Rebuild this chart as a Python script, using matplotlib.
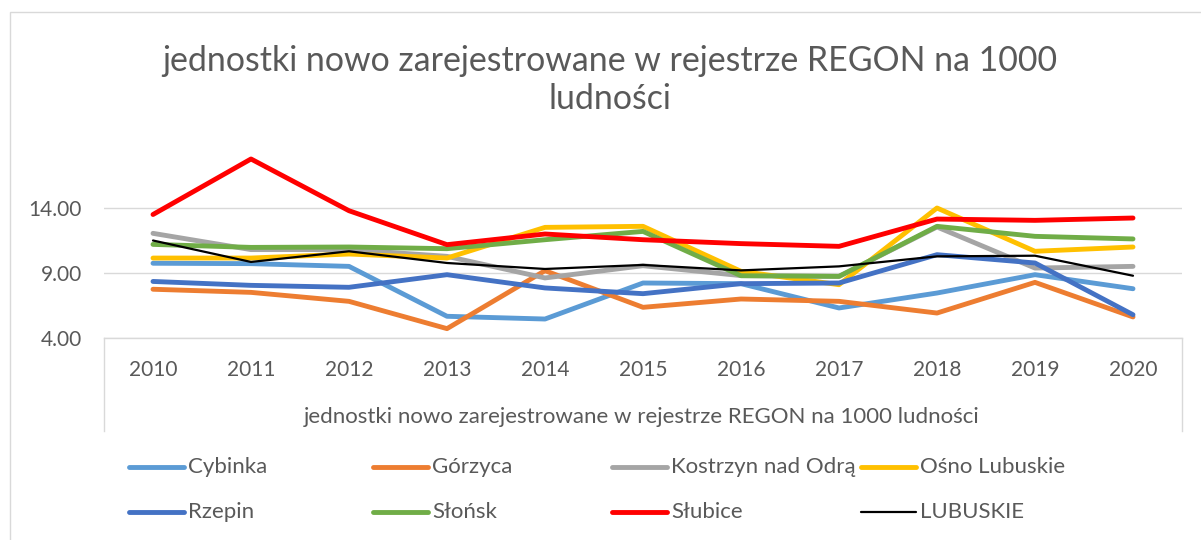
import matplotlib.pyplot as plt
import matplotlib.transforms as mtransforms
from matplotlib.lines import Line2D
from matplotlib.patches import Rectangle

plt.rcParams['font.family'] = ['Lato', 'DejaVu Sans']

years = ['2010', '2011', '2012', '2013', '2014', '2015', '2016', '2017', '2018', '2019', '2020']

cybinka = [9.75, 9.72, 9.51, 5.67, 5.46, 8.23, 8.18, 6.31, 7.46, 8.87, 7.79]
gorzyca = [7.75, 7.51, 6.82, 4.72, 9.18, 6.36, 7.0, 6.82, 5.92, 8.28, 5.62]
kostrzyn = [12.05, 10.8, 10.8, 10.28, 8.62, 9.56, 8.8, 8.74, 12.54, 9.38, 9.51]
osno = [10.15, 10.15, 10.46, 10.15, 12.51, 12.59, 9.13, 8.1, 14.0, 10.67, 11.0]
rzepin = [8.35, 8.05, 7.9, 8.87, 7.85, 7.41, 8.18, 8.23, 10.41, 9.77, 5.79]
slonsk = [11.2, 10.97, 11.0, 10.87, 11.56, 12.2, 8.79, 8.74, 12.59, 11.82, 11.62]
slubice = [13.5, 17.77, 13.79, 11.18, 12.0, 11.56, 11.26, 11.05, 13.15, 13.05, 13.23]
lubuskie = [11.5, 9.85, 10.67, 9.77, 9.31, 9.62, 9.2, 9.51, 10.28, 10.33, 8.79]

names = ['Cybinka', 'Górzyca', 'Kostrzyn nad Odrą', 'Ośno Lubuskie',
         'Rzepin', 'Słońsk', 'Słubice', 'LUBUSKIE']
series = [cybinka, gorzyca, kostrzyn, osno, rzepin, slonsk, slubice, lubuskie]
colors = ['#5B9BD5', '#ED7D31', '#A5A5A5', '#FFC000',
          '#4472C4', '#70AD47', '#FF0000', '#000000']
widths = [3.5, 3.5, 3.5, 3.5, 3.5, 3.5, 3.5, 1.6]

title = 'jednostki nowo zarejestrowane w rejestrze REGON na 1000\nludności'
axis_title = 'jednostki nowo zarejestrowane w rejestrze REGON na 1000 ludności'

W, H = 1201, 540
fig = plt.figure(figsize=(W / 100, H / 100), dpi=100)

# chart frame
fig.patches.append(Rectangle((10 / W, -0.1), 1.2, 1 - 12 / H + 0.1, transform=fig.transFigure,
                             fill=False, edgecolor='#D9D9D9', linewidth=1))

left, right = 104 / W, 1182 / W
bottom, top = 1 - 338 / H, 1 - 143 / H
ax = fig.add_axes([left, bottom, right - left, top - bottom])

x = list(range(len(years)))
for vals, c, lw in zip(series, colors, widths):
    ax.plot(x, vals, color=c, linewidth=lw, solid_capstyle='round', solid_joinstyle='round')

ax.set_xlim(-0.5, len(years) - 0.5)
ax.set_ylim(4, 19)
ax.set_yticks([4, 9, 14])
ax.set_yticklabels(['4.00', '9.00', '14.00'])
ax.set_xticks([])
ax.tick_params(axis='y', length=0, pad=16, labelsize=15, labelcolor='#595959')
ax.yaxis.grid(True, color='#D9D9D9', linewidth=1)
ax.set_axisbelow(True)
for s in ['top', 'right', 'left']:
    ax.spines[s].set_visible(False)
ax.spines['bottom'].set_color('#D9D9D9')
ax.spines['bottom'].set_linewidth(1)

# multi-level category axis box
for xe in [left, right]:
    fig.add_artist(Line2D([xe, xe], [1 - 338 / H, 1 - 431 / H], color='#D9D9D9', linewidth=1))

trans = mtransforms.blended_transform_factory(ax.transData, fig.transFigure)
for i, y in enumerate(years):
    ax.text(i, 1 - 370 / H, y, transform=trans, ha='center', va='center',
            fontsize=15, color='#595959', clip_on=False)
fig.text(642 / W, 1 - 417 / H, axis_title, ha='center', va='center', fontsize=16, color='#595959')

fig.text(610 / W, 1 - 80 / H, title, ha='center', va='center', fontsize=24.4,
         color='#595959', linespacing=1.2)

# legend
col_x = [129, 373, 612, 861]
row_y = [467, 512]
for k, (n, c, lw) in enumerate(zip(names, colors, widths)):
    cx = col_x[k % 4]
    ry = row_y[k // 4]
    fig.add_artist(Line2D([cx / W, (cx + 55) / W], [1 - ry / H, 1 - ry / H], color=c,
                          linewidth=lw, solid_capstyle='round'))
    fig.text((cx + 59) / W, 1 - ry / H, n, ha='left', va='center', fontsize=16, color='#595959')

fig.savefig('out.png', dpi=100)
